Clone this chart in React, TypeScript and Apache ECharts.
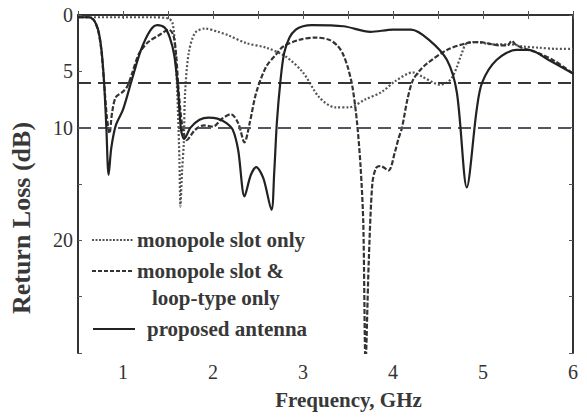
import React, { useEffect, useRef } from "react";
import * as echarts from "echarts";

// proposed antenna (solid)
const freqSolid = [0.5,0.62,0.67,0.7,0.73,0.76,0.79,0.815,0.84,0.87,0.92,1.0,1.1,1.2,1.3,1.38,1.46,1.52,1.57,1.61,1.645,1.68,1.75,1.85,1.95,2.05,2.15,2.22,2.28,2.35,2.42,2.48,2.56,2.65,2.68,2.71,2.75,2.79,2.85,2.92,3.0,3.1,3.45,3.75,4.0,4.2,4.4,4.6,4.71,4.82,4.93,4.99,5.15,5.37,5.51,5.73,6.0];
const rlSolid = [0.2,0.2,0.4,0.8,1.5,3.0,6.0,10.0,14.2,11.8,9.8,8.4,5.7,3.1,1.4,0.9,1.1,2.0,3.6,6.5,10.2,11.0,10.0,9.3,9.1,9.2,9.6,10.2,12.0,16.1,14.2,13.5,14.5,17.3,14.0,9.5,5.8,3.4,2.0,1.3,1.0,0.9,1.0,1.5,1.3,1.3,2.2,4.0,6.9,15.3,8.4,6.0,4.0,3.1,3.1,4.0,5.2];

// monopole slot & loop-type only (dashed)
const freqDashed = [0.5,0.62,0.67,0.7,0.73,0.76,0.79,0.82,0.85,0.88,0.92,1.0,1.05,1.1,1.18,1.28,1.4,1.51,1.56,1.59,1.62,1.66,1.71,1.8,1.9,2.0,2.1,2.2,2.28,2.35,2.41,2.48,2.59,2.7,2.78,2.96,3.14,3.29,3.38,3.44,3.5,3.55,3.6,3.64,3.67,3.695,3.73,3.77,3.81,3.86,3.95,4.02,4.06,4.1,4.16,4.22,4.3,4.38,4.6,4.82,4.96,5.1,5.18,5.27,5.32,5.36,5.43,5.62,5.8,6.0];
const rlDashed = [0.2,0.2,0.4,0.8,1.6,3.2,6.0,9.0,10.5,8.6,7.3,6.8,6.3,5.2,3.4,2.4,1.8,1.3,1.8,3.5,6.9,9.9,11.1,10.2,9.8,9.9,9.2,8.8,9.6,11.3,9.5,6.9,4.6,3.5,2.8,2.2,2.0,2.2,2.7,3.4,4.7,6.4,9.5,13.5,18.5,31,22,15.0,13.6,13.4,13.8,12.2,11.0,10.0,7.5,5.8,4.9,4.3,3.1,2.5,2.4,2.6,2.7,2.7,2.3,2.6,2.9,3.4,4.1,5.2];

// monopole slot only (dotted)
const freqDotted = [0.5,0.9,1.3,1.5,1.55,1.58,1.61,1.627,1.638,1.655,1.675,1.69,1.73,1.8,1.91,2.06,2.17,2.37,2.59,2.81,3.0,3.18,3.36,3.51,3.69,3.88,4.02,4.22,4.33,4.45,4.52,4.6,4.66,4.71,4.76,4.82,4.93,5.1,5.3,5.45,5.62,5.8,6.0];
const rlDotted = [0.2,0.2,0.2,0.3,0.7,3.1,8.4,12.9,17.0,14.0,11.4,6.9,3.4,1.6,1.2,1.5,1.8,2.5,2.9,3.7,5.1,7.3,8.2,8.2,7.5,6.8,5.9,5.1,5.5,6.0,6.2,6.0,5.5,4.6,3.5,2.5,2.4,2.6,2.6,2.8,2.9,3.0,3.0];

const seriesNames = ["monopole slot only", "monopole slot & loop-type only", "proposed antenna"];
const refLines = [6, 10];
const yTickLabels = [0, 5, 10, 20];
const xTickLabels = [1, 2, 3, 4, 5, 6];

const FONT = "'Liberation Serif', 'DejaVu Serif', 'Times New Roman', serif";

export default function App() {
  const ref = useRef<HTMLDivElement>(null);
  useEffect(() => {
    if (!ref.current) return;
    const chart = echarts.init(ref.current, null, { renderer: "svg" });
    const zip = (f: number[], d: number[]) => f.map((x, i) => [x, d[i]]);
    const axisLine = { show: true, lineStyle: { color: "#333", width: 2 } };
    const axisTick = { show: true, inside: true, length: 4, lineStyle: { color: "#555", width: 1 } };
    const legendText = (text: string, x: number, y: number) => ({
      type: "text",
      x,
      y,
      style: { text, fill: "#383838", fontSize: 21, fontWeight: "bold", fontFamily: FONT, verticalAlign: "middle" },
    });
    chart.setOption({
      animation: false,
      backgroundColor: "#fff",
      grid: { left: 75, right: 14, top: 15, bottom: 64 },
      xAxis: [
        {
          type: "value", min: 0.5, max: 6, interval: 0.5, position: "bottom",
          axisLine, axisTick, splitLine: { show: false },
          axisLabel: {
            formatter: (v: number) => (xTickLabels.includes(v) ? String(v) : ""),
            fontSize: 20, color: "#333", fontFamily: FONT, margin: 9,
          },
          name: "Frequency, GHz", nameLocation: "middle", nameGap: 36,
          nameTextStyle: { fontSize: 21, fontWeight: "bold", color: "#383838", fontFamily: FONT, padding: [0, 0, 0, 46] },
        },
        {
          type: "value", min: 0.5, max: 6, interval: 0.5, position: "top",
          axisLine, axisTick, splitLine: { show: false }, axisLabel: { show: false },
        },
      ],
      yAxis: [
        {
          type: "value", inverse: true, min: 0, max: 30, interval: 5, position: "left",
          axisLine, axisTick, splitLine: { show: false },
          axisLabel: {
            formatter: (v: number) => (yTickLabels.includes(v) ? String(v) : ""),
            fontSize: 20, color: "#333", fontFamily: FONT, margin: 5,
          },
          name: "Return Loss (dB)", nameLocation: "middle", nameGap: 44, nameRotate: 90,
          nameTextStyle: { fontSize: 26, fontWeight: "bold", color: "#383838", fontFamily: FONT, padding: [0, 68, 0, 0] },
        },
        {
          type: "value", inverse: true, min: 0, max: 30, interval: 5, position: "right",
          axisLine, axisTick, splitLine: { show: false }, axisLabel: { show: false },
        },
      ],
      series: [
        {
          name: seriesNames[0], type: "line", data: zip(freqDotted, rlDotted), showSymbol: false, smooth: 0.3,
          lineStyle: { color: "#555", width: 2.2, type: [2, 2] }, z: 3,
        },
        {
          name: seriesNames[1], type: "line", data: zip(freqDashed, rlDashed), showSymbol: false, smooth: 0.3,
          lineStyle: { color: "#333", width: 2.2, type: [5, 2] }, z: 4,
        },
        {
          name: seriesNames[2], type: "line", data: zip(freqSolid, rlSolid), showSymbol: false, smooth: 0.3,
          lineStyle: { color: "#222", width: 2.2 }, z: 5,
          markLine: {
            silent: true, symbol: ["none", "none"], label: { show: false },
            lineStyle: { type: [13, 7], width: 2 },
            data: [
              { yAxis: refLines[0], lineStyle: { color: "#3a3434", type: [13, 7], width: 2 } },
              { yAxis: refLines[1], lineStyle: { color: "#4f5664", type: [13, 7], width: 2 } },
            ],
          },
        },
      ],
      graphic: [
        { type: "line", shape: { x1: 92, y1: 240, x2: 134, y2: 240 }, style: { stroke: "#555", lineWidth: 2, lineDash: [2, 1.5] } },
        legendText("monopole slot only", 137, 240),
        { type: "line", shape: { x1: 92, y1: 271, x2: 134, y2: 271 }, style: { stroke: "#333", lineWidth: 2, lineDash: [4, 2] } },
        legendText("monopole slot &", 137, 271),
        legendText("loop-type only", 152, 298),
        { type: "line", shape: { x1: 93, y1: 329, x2: 135, y2: 329 }, style: { stroke: "#222", lineWidth: 2 } },
        legendText("proposed antenna", 147, 329),
      ],
    });
    return () => chart.dispose();
  }, []);
  return <div ref={ref} style={{ position: "fixed", left: 0, top: 0, width: 587, height: 417, background: "#fff" }} />;
}
